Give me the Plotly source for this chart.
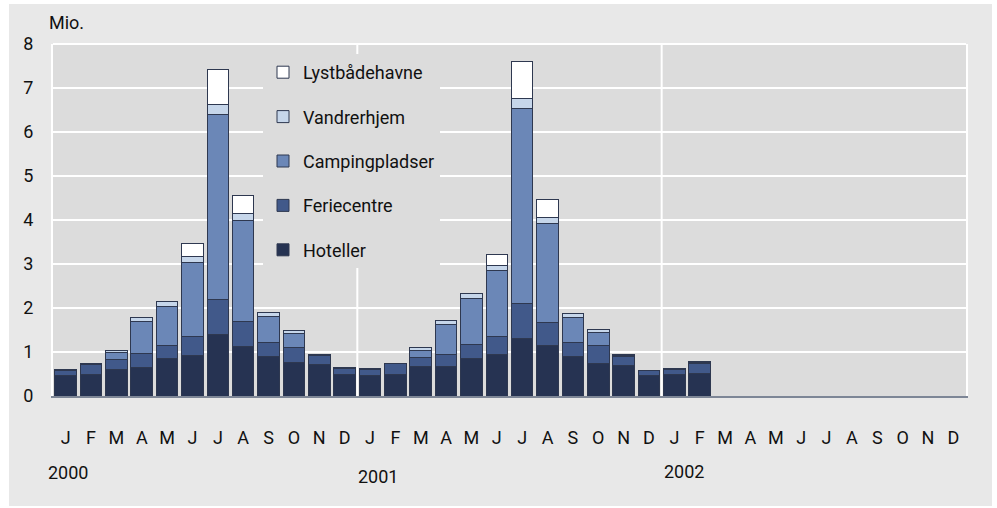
import plotly.graph_objects as go

months = ["J", "F", "M", "A", "M", "J", "J", "A", "S", "O", "N", "D"]
categories = [f"{y}-{i+1:02d}" for y in (2000, 2001, 2002) for i in range(12)]
tick_labels = months * 3
years = ["2000", "2001", "2002"]

hoteller = [0.46, 0.50, 0.61, 0.65, 0.85, 0.93, 1.40, 1.12, 0.89, 0.76, 0.71, 0.50,
            0.46, 0.50, 0.66, 0.66, 0.85, 0.95, 1.31, 1.14, 0.89, 0.74, 0.70, 0.47,
            0.48, 0.51] + [None] * 10
feriecentre = [0.12, 0.22, 0.22, 0.32, 0.30, 0.43, 0.80, 0.58, 0.32, 0.35, 0.20, 0.12,
               0.14, 0.23, 0.21, 0.29, 0.32, 0.41, 0.80, 0.53, 0.32, 0.40, 0.20, 0.10,
               0.13, 0.23] + [None] * 10
camping = [0.01, 0.01, 0.16, 0.73, 0.88, 1.68, 4.19, 2.28, 0.59, 0.30, 0.02, 0.01,
           0.01, 0.01, 0.16, 0.68, 1.05, 1.49, 4.43, 2.24, 0.57, 0.31, 0.03, 0.01,
           0.01, 0.02] + [None] * 10
vandrerhjem = [0.01, 0.01, 0.05, 0.08, 0.11, 0.12, 0.24, 0.17, 0.10, 0.07, 0.02, 0.01,
               0.01, 0.01, 0.07, 0.09, 0.11, 0.11, 0.23, 0.15, 0.10, 0.07, 0.02, 0.01,
               0.01, 0.02] + [None] * 10
lystbaade = [0, 0, 0, 0, 0, 0.31, 0.80, 0.41, 0, 0, 0, 0,
             0, 0, 0, 0, 0, 0.26, 0.84, 0.41, 0, 0, 0, 0,
             0, 0] + [None] * 10

series = [
    ("Hoteller", hoteller, "#263352"),
    ("Feriecentre", feriecentre, "#41598a"),
    ("Campingpladser", camping, "#6b87b7"),
    ("Vandrerhjem", vandrerhjem, "#c6d6ea"),
    ("Lystbådehavne", lystbaade, "#ffffff"),
]

FONT = "Roboto, Open Sans, sans-serif"

fig = go.Figure()
for i, (name, vals, color) in enumerate(series):
    fig.add_trace(go.Bar(
        x=categories, y=vals, name=name, legendgroup=name,
        legendrank=1000 - i,
        marker=dict(color=color, line=dict(color="#2e3850", width=1)),
    ))

# pixel helpers for decoration
L, R, T, B = 53, 966, 44, 396
def px(x):
    return (x - L) / (R - L)
def py(y):
    return (B - y) / (B - T)

shapes = [
    dict(type="rect", xref="paper", yref="paper", x0=px(9), x1=px(992), y0=py(506), y1=py(4),
         fillcolor="#e8e8e8", line=dict(width=0), layer="below"),
    dict(type="rect", xref="paper", yref="paper", x0=0, x1=1, y0=0, y1=1,
         fillcolor="#dcdcdc", line=dict(width=0), layer="below"),
    dict(type="line", xref="x", yref="paper", x0=11.5, x1=11.5, y0=0, y1=1,
         line=dict(color="white", width=2), layer="below"),
    dict(type="line", xref="x", yref="paper", x0=23.5, x1=23.5, y0=0, y1=1,
         line=dict(color="white", width=2), layer="below"),
    dict(type="line", xref="paper", yref="paper", x0=0, x1=1, y0=1, y1=1,
         line=dict(color="white", width=2), layer="below"),
]

annotations = [
    dict(text="Mio.", xref="paper", yref="paper", x=px(47), y=py(22), xanchor="left",
         yanchor="middle", showarrow=False, font=dict(size=18, color="#111", family=FONT)),
]
year_pos = [(46, 472), (356, 477), (662, 471)]
for yr, (xx, yy) in zip(years, year_pos):
    annotations.append(dict(text=yr, xref="paper", yref="paper", x=px(xx), y=py(yy),
                            xanchor="left", yanchor="middle", showarrow=False,
                            font=dict(size=18, color="#111", family=FONT)))

fig.update_layout(
    width=997, height=508,
    margin=dict(l=L, r=997 - R, t=T, b=508 - B),
    barmode="stack", bargap=0.15,
    paper_bgcolor="white", plot_bgcolor="#dcdcdc",
    font=dict(family=FONT, size=18, color="#111"),
    shapes=shapes, annotations=annotations,
    legend=dict(x=px(263), y=py(54), xanchor="left", yanchor="top",
                bgcolor="#dcdcdc", traceorder="grouped", tracegroupgap=18,
                font=dict(size=18, family=FONT, color="#111")),
    xaxis=dict(type="category", categoryorder="array", categoryarray=categories,
               tickmode="array", tickvals=categories, ticktext=tick_labels,
               showgrid=False, showline=True, linecolor="#7d8696", linewidth=2,
               ticks="", ticklabelstandoff=24, tickfont=dict(size=18),
               range=[-0.5, 35.5]),
    yaxis=dict(range=[0, 8], dtick=1, tick0=0, showgrid=True, gridcolor="white",
               gridwidth=2, zeroline=False, showline=True, linecolor="white",
               linewidth=2, mirror=True, ticks="", ticklabelstandoff=14,
               tickfont=dict(size=18)),
)

fig.write_html("out.html", config={"displayModeBar": False},
               post_script="document.body.style.margin='0';")
